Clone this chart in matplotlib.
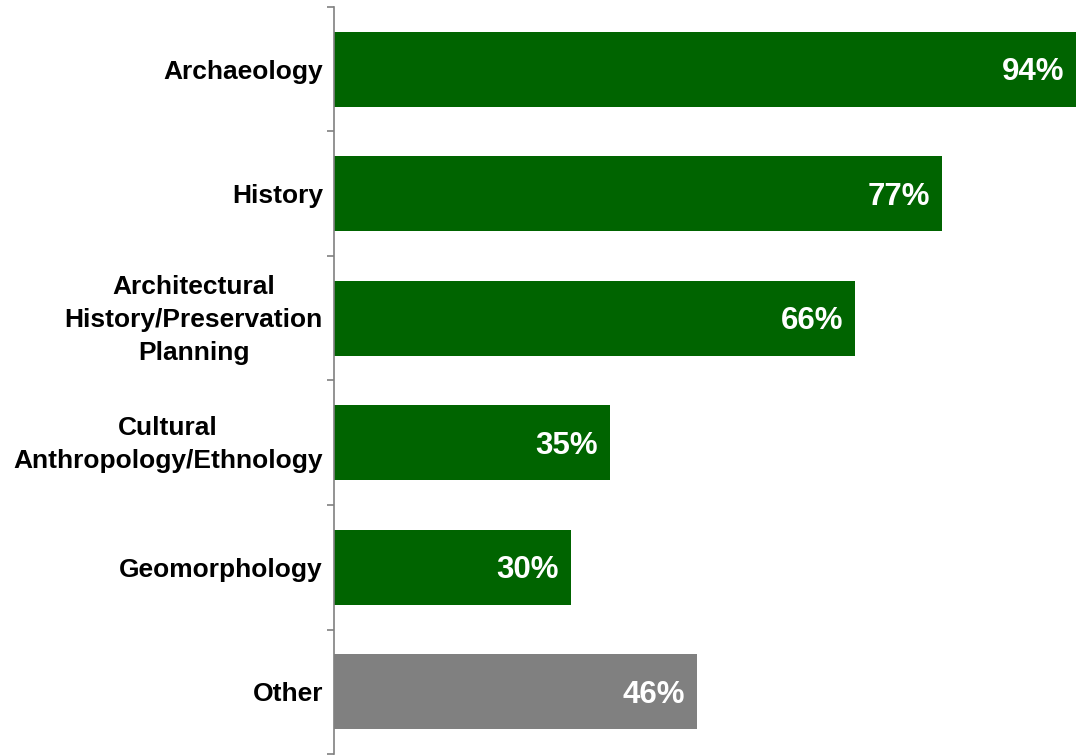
import matplotlib
matplotlib.use("Agg")
import matplotlib.pyplot as plt
import matplotlib.transforms as mtransforms

plt.rcParams['font.family'] = ['Liberation Sans', 'DejaVu Sans']

# survey results, top to bottom
categories = ["Archaeology", "History", "Architectural\nHistory/Preservation\nPlanning",
              "Cultural\nAnthropology/Ethnology", "Geomorphology", "Other"]
values = [94, 77, 66, 35, 30, 46]
colors = ["#006400", "#006400", "#006400", "#006400", "#006400", "#808080"]

fig = plt.figure(figsize=(10.76, 7.55), dpi=100)
ax = fig.add_axes([334/1076, 1/755, 1 - 334/1076, 747/755])

ypos = list(range(len(values)))
bars = ax.barh(ypos, values, height=0.6, color=colors)
ax.set_ylim(len(values) - 0.5, -0.5)
ax.set_xlim(0, 94)

for rect, v in zip(bars, values):
    ax.annotate("%d%%" % v, xy=(rect.get_width(), rect.get_y() + rect.get_height()/2),
                xytext=(-12, -3), textcoords="offset pixels", ha="right", va="center",
                color="white", fontsize=22.5, fontweight="bold")

# ticks sit on the boundaries between categories
ax.set_yticks([y - 0.5 for y in range(len(values) + 1)])
ax.set_yticklabels([])
ax.set_yticks(ypos, minor=True)
ax.set_yticklabels(categories, minor=True, fontsize=19, fontweight="bold",
                   multialignment="center", linespacing=1.45)
ax.tick_params(axis="y", which="major", length=5, width=1.2, color="#808080", direction="out")
ax.tick_params(axis="y", which="minor", length=0, pad=8)

# nudge the wrapped labels up a little
shift = mtransforms.ScaledTranslation(0, 5/100, fig.dpi_scale_trans)
for lab in ax.get_yticklabels(minor=True):
    if "\n" in lab.get_text():
        lab.set_transform(lab.get_transform() + shift)

ax.set_xticks([])
for s in ["top", "right", "bottom"]:
    ax.spines[s].set_visible(False)
ax.spines["left"].set_color("#808080")
ax.spines["left"].set_linewidth(1.2)

fig.savefig("out.png", dpi=100)
